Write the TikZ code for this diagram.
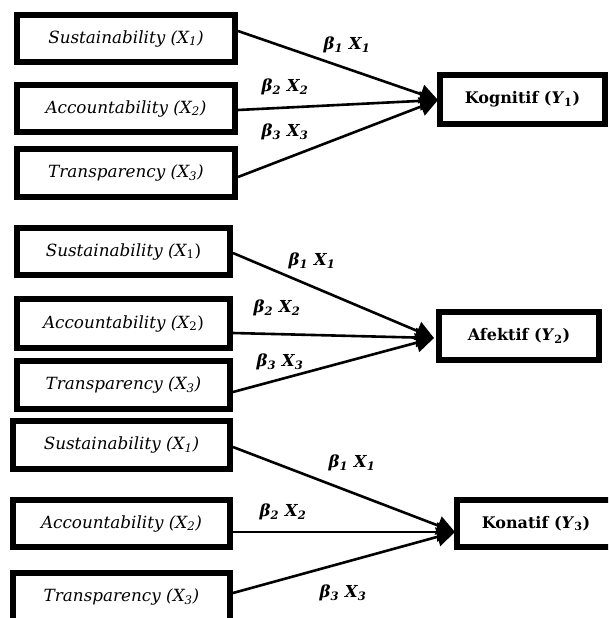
\documentclass[tikz,border=0pt]{standalone}
\usepackage{fontspec}
\setmainfont{DejaVu Serif}
\usetikzlibrary{arrows.meta}
\begin{document}
\begin{tikzpicture}[x=1pt,y=-1pt,
  inbox/.style={draw=black, line width=6pt, inner sep=0pt, minimum height=47pt,
    font=\fontsize{16.8}{20}\selectfont\itshape},
  outbox/.style={draw=black, line width=6pt, inner sep=0pt, minimum height=48pt,
    font=\fontsize{16}{19}\selectfont\bfseries},
  blabel/.style={inner sep=0pt, font=\fontsize{16.5}{19}\selectfont\bfseries\itshape},
  conn/.style={line width=2.6pt, -{Triangle[length=18pt,width=19pt]}}]
\clip (0,0) rectangle (608,618);
% ---------- panel 1 ----------
\node[inbox, minimum width=218pt] (S1) at (126,38.5) {Sustainability (X\textsubscript{1})};
\node[inbox, minimum width=218pt] (A1) at (126,108.5) {Accountability (X\textsubscript{2})};
\node[inbox, minimum width=218pt, minimum height=48pt] (T1) at (126,173) {Transparency (X\textsubscript{3})};
\node[outbox, minimum width=165pt, minimum height=49pt] (Y1) at (522.5,99.5) {Kognitif (\textit{Y}\textsubscript{1})};
\coordinate (Y1in) at (438,100);
\draw[conn] ([yshift=7.5pt]S1.east) -- (Y1in);
\draw[conn] ([yshift=-1.5pt]A1.east) -- (Y1in);
\draw[conn] ([yshift=-4pt]T1.east) -- (Y1in);
\node[blabel] (b11) at (347,45) {β\textsubscript{1} X\textsubscript{1}};
\node[blabel] (b12) at (285,87) {β\textsubscript{2} X\textsubscript{2}};
\node[blabel] (b13) at (285,132) {β\textsubscript{3} X\textsubscript{3}};
% ---------- panel 2 ----------
\node[inbox, minimum width=213pt] (S2) at (123.5,251.5) {Sustainability (\textit{X}{\upshape\textsubscript{1})}};
\node[inbox, minimum width=213pt, minimum height=49pt] (A2) at (123.5,323.5) {Accountability (\textit{X}{\upshape\textsubscript{2})}};
\node[inbox, minimum width=213pt, minimum height=48pt] (T2) at (123.5,385) {Transparency (X\textsubscript{3})};
\node[outbox, minimum width=160pt] (Y2) at (519,336) {Afektif (\textit{Y}\textsubscript{2})};
\coordinate (Y2in) at (434,338);
\draw[conn] ([yshift=-1.5pt]S2.east) -- (Y2in);
\draw[conn] ([yshift=-9.5pt]A2.east) -- (Y2in);
\draw[conn] ([yshift=-7pt]T2.east) -- (Y2in);
\node[blabel] (b21) at (312,261) {β\textsubscript{1} X\textsubscript{1}};
\node[blabel] (b22) at (277,308) {β\textsubscript{2} X\textsubscript{2}};
\node[blabel] (b23) at (280,362) {β\textsubscript{3} X\textsubscript{3}};
% ---------- panel 3 ----------
\node[inbox, minimum width=217pt, minimum height=48pt] (S3) at (121.5,445) {Sustainability (X\textsubscript{1})};
\node[inbox, minimum width=217pt] (A3) at (121.5,523.5) {Accountability (X\textsubscript{2})};
\node[inbox, minimum width=217pt, minimum height=48pt] (T3) at (121.5,597) {Transparency (X\textsubscript{3})};
\node[outbox, minimum width=158pt, minimum height=47pt] (Y3) at (536,523.5) {Konatif (\textit{Y}\textsubscript{3})};
\coordinate (Y3in) at (455,532);
\draw[conn] ([yshift=-2pt]S3.east) -- (Y3in);
\draw[conn] ([yshift=-8.5pt]A3.east) -- (Y3in);
\draw[conn] ([yshift=4pt]T3.east) -- (Y3in);
\node[blabel] (b31) at (352,463) {β\textsubscript{1} X\textsubscript{1}};
\node[blabel] (b32) at (283,512) {β\textsubscript{2} X\textsubscript{2}};
\node[blabel] (b33) at (343,593) {β\textsubscript{3} X\textsubscript{3}};
\end{tikzpicture}
\end{document}
